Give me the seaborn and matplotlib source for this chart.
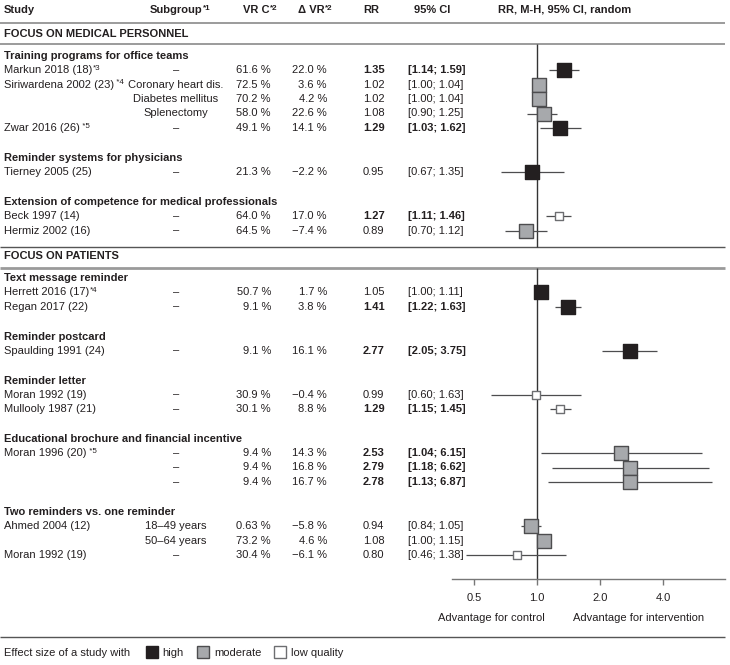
import matplotlib
matplotlib.use("Agg")
import matplotlib.pyplot as plt
import seaborn as sns
import pandas as pd
from matplotlib import font_manager
from matplotlib.lines import Line2D
from matplotlib.ticker import NullLocator

# --- data ---
sections = ["FOCUS ON MEDICAL PERSONNEL", "FOCUS ON PATIENTS"]
groups = ["Training programs for office teams", "Reminder systems for physicians",
          "Extension of competence for medical professionals", "Text message reminder",
          "Reminder postcard", "Reminder letter",
          "Educational brochure and financial incentive", "Two reminders vs. one reminder"]
group_section = [0, 0, 0, 1, 1, 1, 1, 1]
group_sizes = [5, 1, 2, 2, 1, 2, 3, 3]

studies = ["Markun 2018 (18)", "Siriwardena 2002 (23)", "", "", "Zwar 2016 (26)",
           "Tierney 2005 (25)", "Beck 1997 (14)", "Hermiz 2002 (16)",
           "Herrett 2016 (17)", "Regan 2017 (22)", "Spaulding 1991 (24)",
           "Moran 1992 (19)", "Mullooly 1987 (21)", "Moran 1996 (20)", "", "",
           "Ahmed 2004 (12)", "", "Moran 1992 (19)"]
study_notes = ["*3", " *4", "", "", " *5", "", "", "", "*4", "", "", "", "",
               " *5", "", "", "", "", ""]
subgroups = ["–", "Coronary heart dis.", "Diabetes mellitus", "Splenectomy", "–",
             "–", "–", "–", "–", "–", "–", "–", "–", "–", "–", "–",
             "18–49 years", "50–64 years", "–"]
vr_c = [61.6, 72.5, 70.2, 58.0, 49.1, 21.3, 64.0, 64.5, 50.7, 9.1, 9.1, 30.9,
        30.1, 9.4, 9.4, 9.4, 0.63, 73.2, 30.4]
delta_vr = [22.0, 3.6, 4.2, 22.6, 14.1, -2.2, 17.0, -7.4, 1.7, 3.8, 16.1, -0.4,
            8.8, 14.3, 16.8, 16.7, -5.8, 4.6, -6.1]
rr = [1.35, 1.02, 1.02, 1.08, 1.29, 0.95, 1.27, 0.89, 1.05, 1.41, 2.77, 0.99,
      1.29, 2.53, 2.79, 2.78, 0.94, 1.08, 0.80]
ci_lo = [1.14, 1.00, 1.00, 0.90, 1.03, 0.67, 1.11, 0.70, 1.00, 1.22, 2.05, 0.60,
         1.15, 1.04, 1.18, 1.13, 0.84, 1.00, 0.46]
ci_hi = [1.59, 1.04, 1.04, 1.25, 1.62, 1.35, 1.46, 1.12, 1.11, 1.63, 3.75, 1.63,
         1.45, 6.15, 6.62, 6.87, 1.05, 1.15, 1.38]
quality = ["high", "moderate", "moderate", "moderate", "high", "high", "low",
           "moderate", "high", "high", "high", "low", "low", "moderate",
           "moderate", "moderate", "moderate", "moderate", "low"]
quality_labels = {"high": "high", "moderate": "moderate", "low": "low quality"}

# --- style ---
sns.set_theme(style="white")
names = {f.name for f in font_manager.fontManager.ttflist}
fam = "Liberation Sans Narrow" if "Liberation Sans Narrow" in names else "Liberation Sans"
fs = 9.5 if fam.endswith("Narrow") else 8.0
plt.rcParams["font.family"] = [fam, "DejaVu Sans"]
txt = "#231f20"
fill = {"high": "#231f20", "moderate": "#a7a9ac", "low": "#ffffff"}
edge = {"high": "#231f20", "moderate": "#4d4d4f", "low": "#6d6e71"}

# row layout (pixels from top)
step = 14.5
ys, group_y, section_y, sep_dark, sep_light = [], [], [34], [], []
y = 56
y_last = None
for g, (sec, n) in enumerate(zip(group_section, group_sizes)):
    if g > 0 and sec != group_section[g - 1]:
        sep_dark.append(y_last + 16.5)
        section_y.append(y_last + 25.5)
        sep_light.append(y_last + 37.5)
        y = y_last + 47.5
    elif g > 0:
        y = y_last + 30
    group_y.append(y)
    for i in range(n):
        ys.append(y + 14 + i * step)
    y_last = ys[-1]
axis_y = y_last + 24

W, H = 730, 665
fig = plt.figure(figsize=(W / 100, H / 100), dpi=100)
ax_t = fig.add_axes([0, 0, 1, 1])
ax_t.set_xlim(0, W)
ax_t.set_ylim(H, 0)
ax_t.axis("off")


def put(x, y, s, note="", bold=False, **kw):
    t = ax_t.text(x, y, s, fontsize=fs, color=txt, va="center",
                  fontweight="bold" if bold else "normal", **kw)
    if note:
        ax_t.annotate(note, xy=(1, 1), xycoords=t, xytext=(0.2, 0),
                      textcoords="offset points", fontsize=fs * 0.72, color=txt,
                      ha="left", va="top", fontweight="bold" if bold else "normal")
    return t


# header
put(4, 10, "Study", bold=True)
put(150, 10, "Subgroup", "*1", bold=True)
put(243, 10, "VR C", "*2", bold=True)
put(298, 10, "Δ VR", "*2", bold=True)
put(363, 10, "RR", bold=True)
put(432, 10, "95% CI", bold=True, ha="center")
put(498, 10, "RR, M-H, 95% CI, random", bold=True)

for s, yy in zip(sections, section_y):
    put(4, yy, s, bold=True)
for gname, yy in zip(groups, group_y):
    put(4, yy, gname, bold=True)

for i, yy in enumerate(ys):
    sig = ci_lo[i] > 1 or ci_hi[i] < 1
    put(4, yy, studies[i], study_notes[i])
    put(176, yy, subgroups[i], ha="center")
    v = f"{vr_c[i]:.2f}" if vr_c[i] < 1 else f"{vr_c[i]:.1f}"
    put(271, yy, v + " %", ha="right")
    put(327, yy, f"{delta_vr[i]:.1f}".replace("-", "−") + " %", ha="right")
    put(363, yy, f"{rr[i]:.2f}", bold=sig)
    put(408, yy, f"[{ci_lo[i]:.2f}; {ci_hi[i]:.2f}]", bold=sig)

# separator lines
ax_t.hlines([23, 44], 0, 725, color="#8a8a8a", lw=1.2)
ax_t.hlines(sep_dark, 0, 725, color="#555555", lw=1.0)
ax_t.hlines(sep_light, 0, 725, color="#9a9a9a", lw=2.0)
ax_t.hlines([axis_y + 58], 0, 725, color="#555555", lw=1.0)

put(491, axis_y + 39, "Advantage for control", ha="center")
put(639, axis_y + 39, "Advantage for intervention", ha="center")
put(4, axis_y + 74, "Effect size of a study with")

# forest plot
x0, x1, xone, px_per_doubling = 452, 725, 537, 63
ax = fig.add_axes([x0 / W, 0, (x1 - x0) / W, 1])
ax.patch.set_alpha(0)
df = pd.DataFrame({"rr": rr, "lo": ci_lo, "hi": ci_hi, "y": ys, "quality": quality})
ax.hlines(df["y"], df["lo"], df["hi"], color="#4d4d4f", lw=0.9, zorder=2)
for q in ["high", "moderate", "low"]:
    sub = df[df["quality"] == q]
    sns.scatterplot(data=sub, x="rr", y="y", marker="s",
                    s=40 if q == "low" else 90, color=fill[q], edgecolor=edge[q],
                    linewidth=1.0, ax=ax, zorder=3, legend=False)
ax.vlines(1, 44, sep_dark[0], color="#333333", lw=1.0, zorder=1)
ax.vlines(1, sep_light[0], axis_y, color="#333333", lw=1.0, zorder=1)

ax.set_xscale("log", base=2)
ax.set_xlim(2 ** ((x0 - xone) / px_per_doubling), 2 ** ((x1 - xone) / px_per_doubling))
ax.set_ylim(H, 0)
ax.set_xlabel("")
ax.set_ylabel("")
ax.set_yticks([])
ax.set_xticks([0.5, 1, 2, 4])
ax.set_xticklabels(["0.5", "1.0", "2.0", "4.0"])
ax.xaxis.set_minor_locator(NullLocator())
for side in ["top", "left", "right"]:
    ax.spines[side].set_visible(False)
ax.spines["bottom"].set_position(("data", axis_y))
ax.spines["bottom"].set_color("#777777")
ax.spines["bottom"].set_linewidth(1.0)
ax.tick_params(axis="x", bottom=True, direction="out", length=4.3, width=1.0,
               color="#777777", labelcolor=txt, labelsize=fs, pad=6)

# legend
handles = [Line2D([], [], ls="", marker="s", markersize=9.0, markerfacecolor=fill[q],
                  markeredgecolor=edge[q], markeredgewidth=1.0, label=quality_labels[q])
           for q in ["high", "moderate", "low"]]
fig.legend(handles=handles, loc="center left", bbox_to_anchor=(146 / W, 1 - (axis_y + 74) / H),
           ncol=3, frameon=False, handlelength=1.0, handletextpad=0.5,
           columnspacing=1.2, fontsize=fs, borderpad=0, borderaxespad=0,
           labelcolor=txt)

fig.savefig("out.png", dpi=100)
